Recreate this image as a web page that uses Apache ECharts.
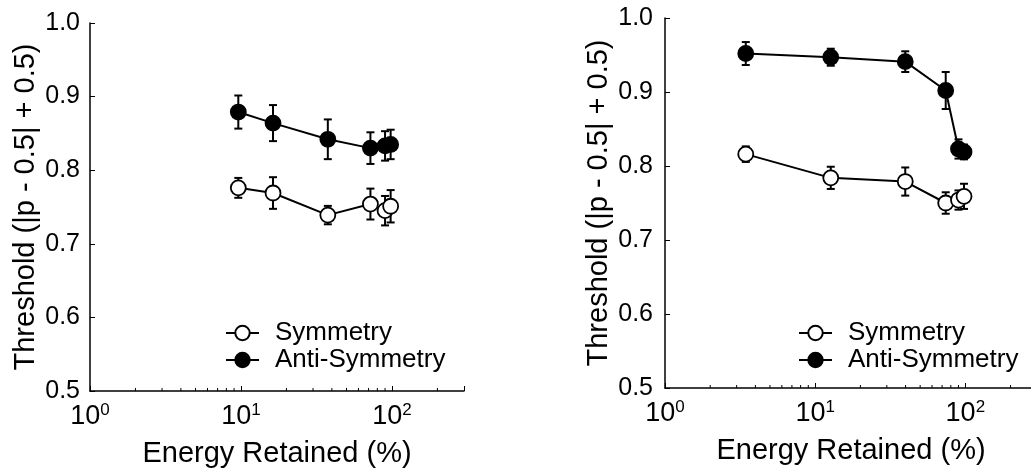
<!DOCTYPE html>
<html>
<head>
<meta charset="utf-8">
<script src="https://cdn.jsdelivr.net/npm/echarts@6/dist/echarts.min.js"></script>
<style>
  html, body { margin: 0; background: #fff; }
  #chart { width: 1031px; height: 472px; }
</style>
</head>
<body>
<div id="chart"></div>
<script>
// left panel
var leftEnergy = [9.6, 16.3, 37.6, 72, 90, 98];
var leftSym = [0.776, 0.769, 0.739, 0.754, 0.745, 0.751];
var leftSymErr = [0.0135, 0.0215, 0.0125, 0.021, 0.02, 0.022];
var leftAnti = [0.879, 0.864, 0.842, 0.830, 0.833, 0.835];
var leftAntiErr = [0.0225, 0.0245, 0.027, 0.0215, 0.02, 0.02];

// right panel
var rightEnergy = [3.45, 12.7, 39.8, 74, 90, 98];
var rightSym = [0.816, 0.784, 0.779, 0.750, 0.754, 0.759];
var rightSymErr = [0.0105, 0.015, 0.019, 0.0145, 0.013, 0.017];
var rightAnti = [0.952, 0.947, 0.941, 0.902, 0.823, 0.819];
var rightAntiErr = [0.0155, 0.0115, 0.014, 0.025, 0.013, 0.01];

var seriesNames = ['Symmetry', 'Anti-Symmetry'];
var xTitle = 'Energy Retained (%)';
var yTitle = 'Threshold (|p - 0.5| + 0.5)';
var xMin = 1, xMax = 300;
var yMin = 0.5, yMax = 1.0, yStep = 0.1;

var FONT = '"Liberation Sans", Arial, Helvetica, sans-serif';

// little log ticks 2..9 per decade
var minorTicks = [];
for (var k = 0; k < 3; k++) {
  for (var m = 2; m <= 9; m++) {
    var v = m * Math.pow(10, k);
    if (v < xMax) minorTicks.push(v);
  }
}

function errSeries(idx, xs, ys, es) {
  return {
    type: 'custom',
    xAxisIndex: idx,
    yAxisIndex: idx,
    z: 1,
    silent: true,
    animation: false,
    data: xs.map(function (x, i) { return [x, ys[i], es[i]]; }),
    encode: { x: 0, y: 1 },
    renderItem: function (params, api) {
      var x = api.value(0), y = api.value(1), e = api.value(2);
      var top = api.coord([x, y + e]);
      var bot = api.coord([x, y - e]);
      var w = 4;
      var st = { stroke: '#000', lineWidth: 2 };
      return {
        type: 'group',
        children: [
          { type: 'line', shape: { x1: top[0], y1: top[1], x2: bot[0], y2: bot[1] }, style: st },
          { type: 'line', shape: { x1: top[0] - w, y1: top[1], x2: top[0] + w, y2: top[1] }, style: st },
          { type: 'line', shape: { x1: bot[0] - w, y1: bot[1], x2: bot[0] + w, y2: bot[1] }, style: st }
        ]
      };
    }
  };
}

function lineSeries(idx, name, xs, ys, fill) {
  return {
    type: 'line',
    name: name,
    xAxisIndex: idx,
    yAxisIndex: idx,
    z: 3,
    animation: false,
    data: xs.map(function (x, i) { return [x, ys[i]]; }),
    symbol: 'circle',
    symbolSize: 15,
    lineStyle: { color: '#000', width: 2 },
    itemStyle: { color: fill, borderColor: '#000', borderWidth: 1.8 },
    emphasis: { disabled: true }
  };
}

function minorSeries(idx) {
  return {
    type: 'custom',
    xAxisIndex: idx,
    yAxisIndex: idx,
    silent: true,
    animation: false,
    data: minorTicks.map(function (v) { return [v, yMin]; }),
    encode: { x: 0, y: 1 },
    renderItem: function (params, api) {
      var p = api.coord([api.value(0), api.value(1)]);
      return { type: 'line', shape: { x1: p[0], y1: p[1], x2: p[0], y2: p[1] - 3 }, style: { stroke: '#000', lineWidth: 1 } };
    }
  };
}

function xAxis(idx) {
  return {
    gridIndex: idx,
    type: 'log',
    logBase: 10,
    min: xMin,
    max: xMax,
    axisLine: { lineStyle: { color: '#000', width: 1.5 } },
    axisTick: { inside: true, length: 5, lineStyle: { color: '#000', width: 1 } },
    splitLine: { show: false },
    axisLabel: {
      margin: 11,
      formatter: function (v) {
        var e = Math.log10(v), r = Math.round(e);
        if (Math.abs(e - r) > 1e-6) return '';
        return '{b|10}{s|' + r + '}';
      },
      rich: {
        b: { fontSize: 27, lineHeight: 28, verticalAlign: 'bottom', fontFamily: FONT, color: '#000' },
        s: { fontSize: 17, lineHeight: 17, padding: [0, 0, 14, 0], verticalAlign: 'top', fontFamily: FONT, color: '#000' }
      }
    },
    name: xTitle,
    nameLocation: 'middle',
    nameGap: 48,
    nameTextStyle: { fontSize: 29, color: '#000', fontFamily: FONT }
  };
}

function yAxis(idx, labelGap, nameGap) {
  return {
    gridIndex: idx,
    type: 'value',
    min: yMin,
    max: yMax,
    interval: yStep,
    axisLine: { show: true, lineStyle: { color: '#000', width: 1.5 } },
    axisTick: { show: true, inside: true, length: 5, lineStyle: { color: '#000', width: 1 } },
    splitLine: { show: false },
    axisLabel: {
      margin: labelGap,
      fontSize: 25,
      color: '#000',
      fontFamily: FONT,
      formatter: function (v) { return v.toFixed(1); }
    },
    name: yTitle,
    nameLocation: 'middle',
    nameGap: nameGap,
    nameTextStyle: { fontSize: 29, color: '#000', fontFamily: FONT }
  };
}

function legend(x, y) {
  return {
    data: seriesNames,
    orient: 'vertical',
    left: x,
    top: y,
    itemWidth: 33,
    itemHeight: 18,
    itemGap: 1,
    selectedMode: false,
    textStyle: { fontSize: 26, color: '#000', fontFamily: FONT, padding: [0, 0, 0, 11] }
  };
}

var chart = echarts.init(document.getElementById('chart'));

chart.setOption({
  backgroundColor: '#fff',
  animation: false,
  grid: [
    { left: 90, top: 23, width: 374, height: 368, outerBoundsMode: 'none' },
    { left: 665, top: 18, width: 372, height: 370, outerBoundsMode: 'none' }
  ],
  legend: [legend(220, 315), legend(793, 315)],
  xAxis: [xAxis(0), xAxis(1)],
  yAxis: [yAxis(0, 10, 50), yAxis(1, 12, 52)],
  series: [
    errSeries(0, leftEnergy, leftSym, leftSymErr),
    errSeries(0, leftEnergy, leftAnti, leftAntiErr),
    lineSeries(0, seriesNames[0], leftEnergy, leftSym, '#fff'),
    lineSeries(0, seriesNames[1], leftEnergy, leftAnti, '#000'),
    minorSeries(0),
    errSeries(1, rightEnergy, rightSym, rightSymErr),
    errSeries(1, rightEnergy, rightAnti, rightAntiErr),
    lineSeries(1, seriesNames[0], rightEnergy, rightSym, '#fff'),
    lineSeries(1, seriesNames[1], rightEnergy, rightAnti, '#000'),
    minorSeries(1)
  ]
});
</script>
</body>
</html>
